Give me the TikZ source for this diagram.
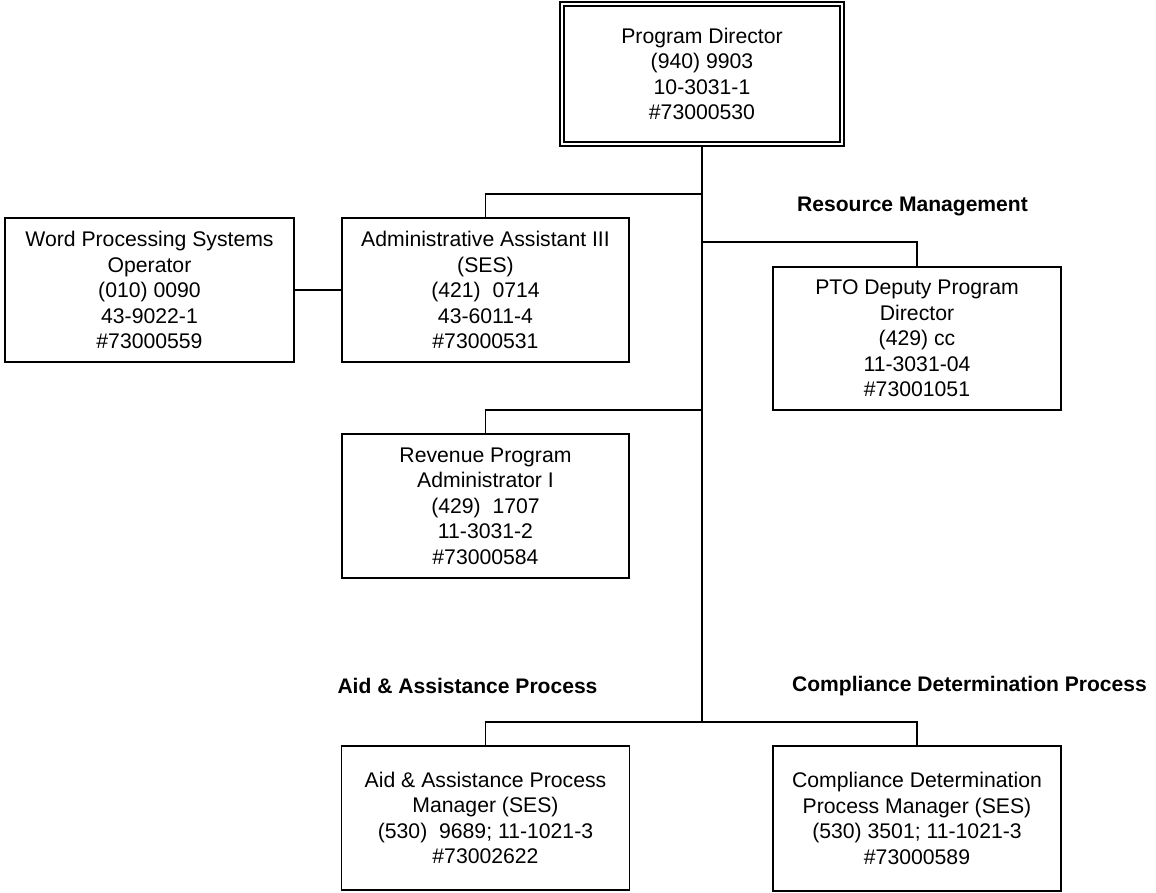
\documentclass[tikz,border=0pt]{standalone}
\usepackage{fontspec}
\setmainfont{Liberation Sans}
\usetikzlibrary{backgrounds}
\begin{document}
\begin{tikzpicture}[x=0.75pt,y=-0.75pt,
  post/.style={draw, fill=white, line width=1.2pt, inner sep=0pt, outer sep=0pt,
    align=center, font=\fontsize{15.9}{19.1}\selectfont},
  headpost/.style={post, line width=0.9pt, double, double distance=2.1pt},
  group/.style={font=\fontsize{15.8}{19}\selectfont\bfseries},
  link/.style={line width=1.2pt},
  trunk/.style={line width=1.6pt}]
\useasboundingbox (0,0) rectangle (1156,892);

% positions
\node[headpost, minimum width=280*0.75pt, minimum height=140*0.75pt] (dir) at (702,74)
  {Program Director\\(940) 9903\\10-3031-1\\\#73000530};
\node[post, minimum width=289*0.75pt, minimum height=144*0.75pt] (wp) at (149.5,290)
  {Word Processing Systems\\Operator\\(010) 0090\\43-9022-1\\\#73000559};
\node[post, minimum width=287*0.75pt, minimum height=144*0.75pt] (admin) at (485.5,290)
  {Administrative Assistant III\\(SES)\\(421)\ \ 0714\\43-6011-4\\\#73000531};
\node[post, minimum width=288*0.75pt, minimum height=143*0.75pt] (pto) at (917,338.5)
  {PTO Deputy Program\\Director\\(429) cc\\11-3031-04\\\#73001051};
\node[post, minimum width=287*0.75pt, minimum height=144*0.75pt] (rev) at (485.5,506)
  {Revenue Program\\Administrator I\\(429)\ \ 1707\\11-3031-2\\\#73000584};
\node[post, minimum width=288*0.75pt, minimum height=144*0.75pt] (aid) at (485.5,818)
  {Aid \& Assistance Process\\Manager (SES)\\(530)\ \ 9689; 11-1021-3\\\#73002622};
\node[post, minimum width=288*0.75pt, minimum height=145*0.75pt] (comp) at (917,818.5)
  {Compliance Determination\\Process Manager (SES)\\(530) 3501; 11-1021-3\\\#73000589};

% group headings
\node[group] (grm) at (912.5,206) {Resource Management};
\node[group] (gaid) at (467.5,686) {Aid \& Assistance Process};
\node[group] (gcomp) at (969.5,686) {Compliance Determination Process};

% junctions on the trunk
\coordinate (j1) at (702,194);
\coordinate (j2) at (702,242);
\coordinate (j3) at (702,410);
\coordinate (j4) at (702,722);

\begin{scope}[on background layer]
  \draw[trunk] (dir.center) -- (j4);
  \draw[link] (j1) -| (admin.north);
  \draw[link] (j2) -| (pto.north);
  \draw[link] (j3) -| (rev.north);
  \draw[link] (aid.north) |- (j4) -| (comp.north);
  \draw[link] (wp.east) -- (admin.west);
\end{scope}
\end{tikzpicture}
\end{document}
